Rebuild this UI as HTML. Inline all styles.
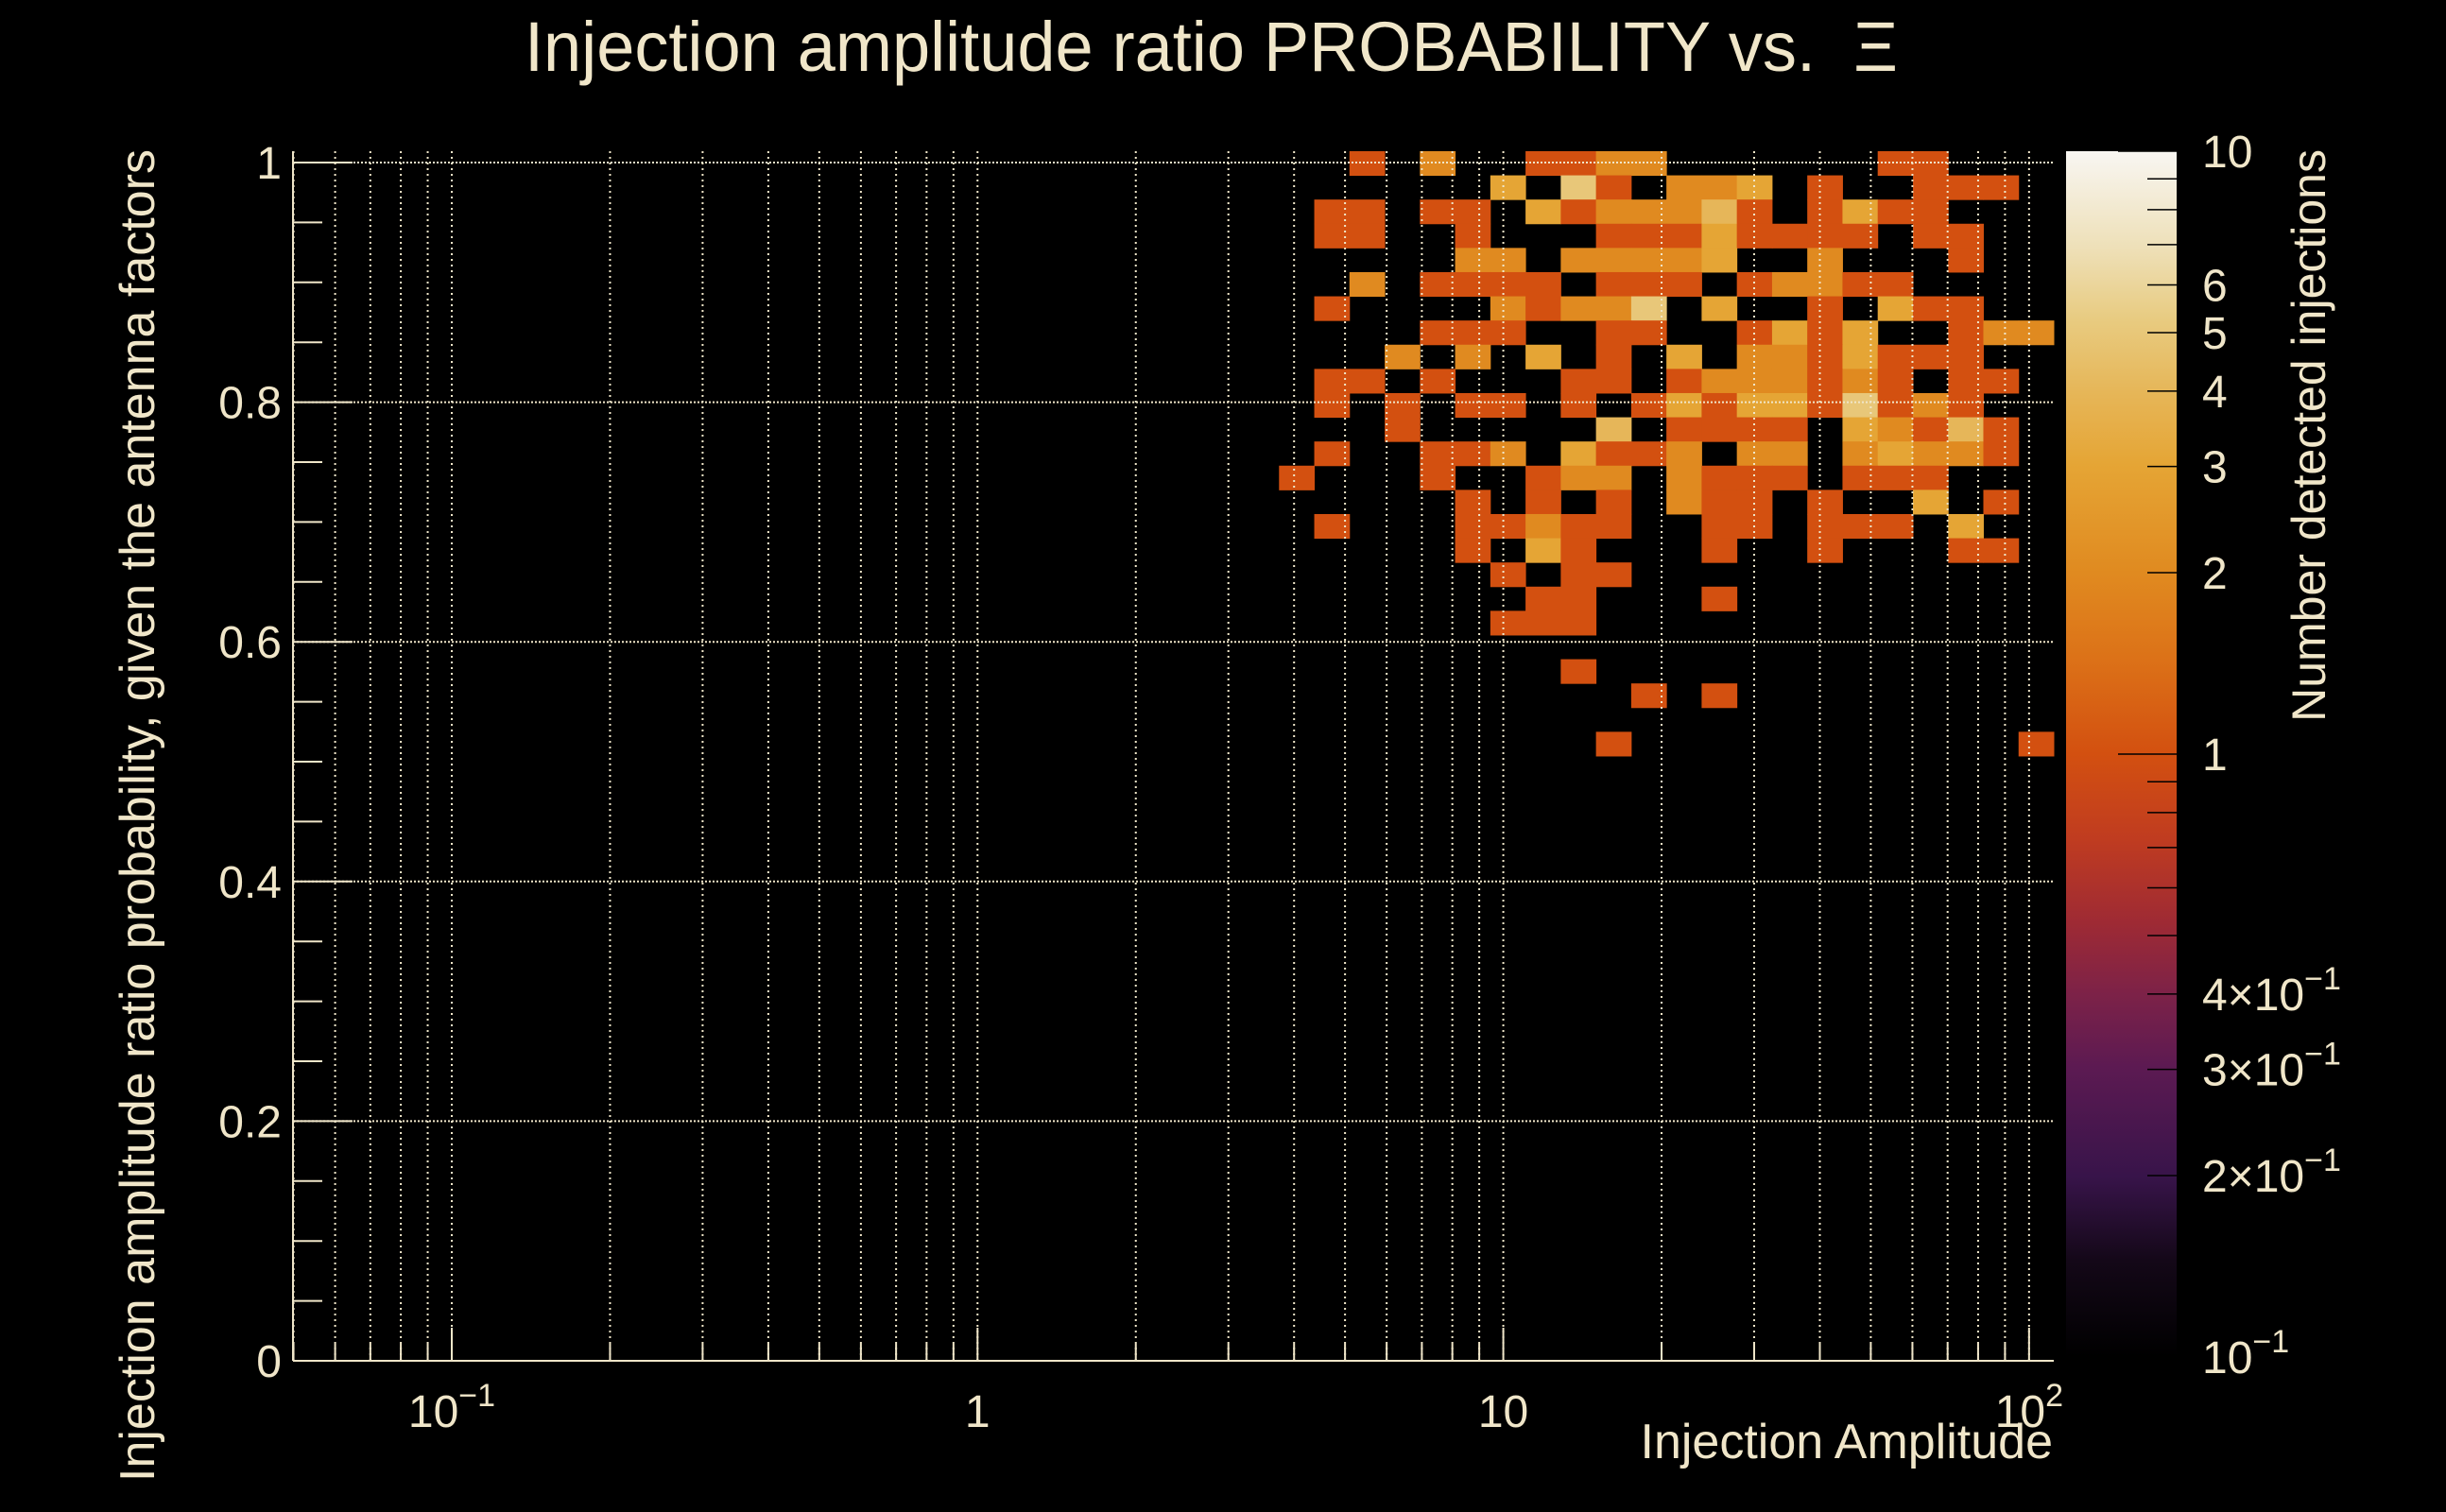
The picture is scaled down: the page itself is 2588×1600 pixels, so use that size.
<!DOCTYPE html>
<html><head><meta charset="utf-8"><style>
html,body{margin:0;padding:0;background:#000;}
svg{display:block;}
text{font-family:"Liberation Sans",sans-serif;fill:#f0e6c9;}
</style></head><body>
<svg id="chart" width="2588" height="1600" viewBox="0 0 2588 1600" xmlns="http://www.w3.org/2000/svg">
<defs>
<linearGradient id="cbgrad" x1="0" y1="1" x2="0" y2="0">
<stop offset="0" stop-color="#000000"/>
<stop offset="0.08" stop-color="#140818"/>
<stop offset="0.15" stop-color="#38144a"/>
<stop offset="0.24" stop-color="#5c1a52"/>
<stop offset="0.30" stop-color="#7c2248"/>
<stop offset="0.36" stop-color="#9e2a34"/>
<stop offset="0.43" stop-color="#c03c20"/>
<stop offset="0.50" stop-color="#d35010"/>
<stop offset="0.58" stop-color="#dc7218"/>
<stop offset="0.65" stop-color="#e08a20"/>
<stop offset="0.74" stop-color="#e5a535"/>
<stop offset="0.80" stop-color="#e6b658"/>
<stop offset="0.86" stop-color="#e8cb80"/>
<stop offset="0.92" stop-color="#eee0b8"/>
<stop offset="1" stop-color="#f8f6f2"/>
</linearGradient>
</defs>
<g id="cells"></g>
<g id="grid"></g>
<g id="axes"></g>
<rect x="2186" y="160" width="117" height="1276" fill="url(#cbgrad)"/>
<g id="cbticks"></g>
<text x="555" y="75" font-size="74" textLength="1453" lengthAdjust="spacingAndGlyphs" xml:space="preserve">Injection amplitude ratio PROBABILITY vs.  Ξ</text>
<text x="2172" y="1543" font-size="52" text-anchor="end">Injection Amplitude</text>
<text transform="translate(163,158) rotate(-90)" font-size="52" text-anchor="end" textLength="1410" lengthAdjust="spacingAndGlyphs">Injection amplitude ratio probability, given the antenna factors</text>
<text transform="translate(2460,158) rotate(-90)" font-size="50" text-anchor="end">Number detected injections</text>
</svg>
<script>
// ---- data ----
const xBinCount = 50;
const yBinCount = 50;
const xLogMin = -1.302;
const xLogMax = 2.047;
const yMin = 0;
const yMax = 1.0095;
const zLogMin = -1;
const zLogMax = 1;
// cells: x bin index, y bin index, count
const cellX = [30,32,35,36,37,38,45,46,
 34,36,37,39,40,41,43,46,47,48,
 29,30,32,33,35,36,37,38,39,40,41,43,44,45,46,
 29,30,33,37,38,39,40,41,42,43,44,46,47,
 33,34,36,37,38,39,40,43,47,
 30,32,33,34,35,37,38,39,41,42,43,44,45,
 29,34,35,36,37,38,40,43,45,46,47,
 32,33,34,37,38,41,42,43,44,47,48,49,
 31,33,35,37,39,41,42,43,44,45,46,47,
 29,30,32,36,37,39,40,41,42,43,44,45,47,48,
 29,31,33,34,36,38,39,40,41,42,43,44,45,46,47,
 31,37,39,40,41,42,44,45,46,47,48,
 29,32,33,34,36,37,38,39,41,42,44,45,46,47,48,
 28,32,35,36,37,39,40,41,42,44,45,46,
 33,35,37,39,40,41,43,46,48,
 29,33,34,35,36,37,40,41,43,44,45,47,
 33,35,36,40,43,47,48,
 34,36,37,
 35,36,40,
 34,35,36,
 36,
 38,40,
 37,49];
const cellY = [49,49,49,49,49,49,49,49,
 48,48,48,48,48,48,48,48,48,48,
 47,47,47,47,47,47,47,47,47,47,47,47,47,47,47,
 46,46,46,46,46,46,46,46,46,46,46,46,46,
 45,45,45,45,45,45,45,45,45,
 44,44,44,44,44,44,44,44,44,44,44,44,44,
 43,43,43,43,43,43,43,43,43,43,43,
 42,42,42,42,42,42,42,42,42,42,42,42,
 41,41,41,41,41,41,41,41,41,41,41,41,
 40,40,40,40,40,40,40,40,40,40,40,40,40,40,
 39,39,39,39,39,39,39,39,39,39,39,39,39,39,39,
 38,38,38,38,38,38,38,38,38,38,38,
 37,37,37,37,37,37,37,37,37,37,37,37,37,37,37,
 36,36,36,36,36,36,36,36,36,36,36,36,
 35,35,35,35,35,35,35,35,35,
 34,34,34,34,34,34,34,34,34,34,34,34,
 33,33,33,33,33,33,33,
 32,32,32,
 31,31,31,
 30,30,30,
 28,
 27,27,
 25,25];
const cellZ = [1,2,1,1,2,2,1,1,
 3,5,1,2,2,3,1,1,1,1,
 1,1,1,1,3,1,2,2,2,4,1,1,3,1,1,
 1,1,1,1,1,1,3,1,1,1,1,1,1,
 2,2,2,2,2,2,3,2,1,
 2,1,1,1,1,1,1,1,1,2,2,1,1,
 1,2,1,2,2,5,3,1,3,1,1,
 1,1,1,1,1,1,3,1,3,1,2,2,
 2,2,3,1,3,2,2,1,3,1,1,1,
 1,1,1,1,1,1,2,2,2,1,2,1,1,1,
 1,1,1,1,1,1,3,1,3,3,1,5,1,2,1,
 1,4,1,1,1,1,3,2,1,4,1,
 1,1,1,2,3,1,1,2,2,2,2,3,2,2,1,
 1,1,1,2,2,2,1,1,1,1,1,1,
 1,1,1,2,1,1,1,3,1,
 1,1,1,2,1,1,1,1,1,1,1,3,
 1,3,1,1,1,1,1,
 1,1,1,
 1,1,1,
 1,1,1,
 1,
 1,1,
 1,1];
const yTickValues = [0,0.2,0.4,0.6,0.8,1];
const yTickLabels = ["0","0.2","0.4","0.6","0.8","1"];
const xDecades = [-1,0,1,2];
const xDecadeBase = ["10","1","10","10"];
const xDecadeExp = ["−1","","","2"];
const cbMajor = [0.1,1,10];
const cbLabels = [[10,"10",""],[6,"6",""],[5,"5",""],[4,"4",""],[3,"3",""],[2,"2",""],[1,"1",""],[0.4,"4×10","−1"],[0.3,"3×10","−1"],[0.2,"2×10","−1"],[0.1,"10","−1"]];
const cbMinor = [0.2,0.3,0.4,0.5,0.6,0.7,0.8,0.9,2,3,4,5,6,7,8,9];

// ---- axes ----
const PL=310, PR=2173, PT=160, PB=1440;
const Y0=1440, Y1=172;
function xPix(logv){return PL+(logv-xLogMin)/(xLogMax-xLogMin)*(PR-PL);}
function yP(v){return Y0+(Y1-Y0)*v;}
function xBinEdge(i){return xPix(xLogMin+i*(xLogMax-xLogMin)/xBinCount);}
function yBinEdge(j){return yP(yMin+j*(yMax-yMin)/yBinCount);}
function zPix(z){return 1436-(Math.log10(z)-zLogMin)/(zLogMax-zLogMin)*1276;}
const stops=[[0,[0,0,0]],[0.08,[20,8,24]],[0.15,[56,20,74]],[0.24,[92,26,82]],[0.30,[124,34,72]],[0.36,[158,42,52]],[0.43,[192,60,32]],[0.50,[211,80,16]],[0.58,[220,114,24]],[0.65,[224,138,32]],[0.74,[229,165,53]],[0.80,[230,182,88]],[0.86,[232,203,128]],[0.92,[238,224,184]],[1,[248,246,242]]];
function zColor(z){
 let t=(Math.log10(z)-zLogMin)/(zLogMax-zLogMin); t=Math.max(0,Math.min(1,t));
 for(let i=1;i<stops.length;i++){ if(t<=stops[i][0]){const a=stops[i-1],b=stops[i];const f=(t-a[0])/(b[0]-a[0]);
  const c=a[1].map((v,k)=>Math.round(v+(b[1][k]-v)*f));return `rgb(${c[0]},${c[1]},${c[2]})`;}}
 return "rgb(248,246,242)";
}
const NS="http://www.w3.org/2000/svg";
function mk(tag,attrs,parent){const e=document.createElementNS(NS,tag);for(const k in attrs)e.setAttribute(k,attrs[k]);parent.appendChild(e);return e;}
const C="#f0e6c9";
const cells=document.getElementById('cells');
for(let i=0;i<cellX.length;i++){
 const x0=xBinEdge(cellX[i]),x1=xBinEdge(cellX[i]+1),y0=yBinEdge(cellY[i]+1),y1=yBinEdge(cellY[i]);
 const r=mk('rect',{x:x0,y:y0,width:x1-x0+0.5,height:y1-y0+0.5,fill:zColor(cellZ[i])},cells);
 
 
}
const grid=document.getElementById('grid');
for(const d of [-2,-1,0,1,2]){
 for(let m=1;m<=9;m++){
  const lv=d+Math.log10(m); if(lv<=xLogMin||lv>=xLogMax) continue;
  const x=xPix(lv);
  const l=mk('line',{x1:x,x2:x,y1:PT,y2:PB,stroke:C,'stroke-width':2,'stroke-dasharray':'2 4'},grid);
  
  
 }
}
for(const v of yTickValues){ if(v===0) continue;
 const y=yP(v);
 const l=mk('line',{x1:PL,x2:PR,y1:y,y2:y,stroke:C,'stroke-width':2,'stroke-dasharray':'2 2'},grid);
 
 
}
const axes=document.getElementById('axes');
mk('line',{x1:PL,x2:PL,y1:PT,y2:PB,stroke:C,'stroke-width':2},axes);
mk('line',{x1:PL,x2:PR,y1:PB,y2:PB,stroke:C,'stroke-width':2},axes);
for(let k=0;k<=20;k++){const v=k*0.05;const y=yP(v);const major=(k%4===0);
 const t=mk('line',{x1:PL,x2:PL+(major?63:31),y1:y,y2:y,stroke:C,'stroke-width':2},axes);
 
 
}
yTickValues.forEach((v,i)=>{
 const t=mk('text',{x:298,y:yP(v)+17,'font-size':48,'text-anchor':'end'},axes);
 t.textContent=yTickLabels[i];
 
 
});
for(const d of [-2,-1,0,1,2]){
 for(let m=1;m<=9;m++){
  const lv=d+Math.log10(m); if(lv<=xLogMin||lv>=xLogMax) continue;
  const x=xPix(lv);
  const t=mk('line',{x1:x,x2:x,y1:PB,y2:PB-(m===1?35:18),stroke:C,'stroke-width':2},axes);
  
  
 }
}
xDecades.forEach((d,i)=>{
 const x=xPix(d);
 const t=mk('text',{x:x,y:1510,'font-size':48,'text-anchor':'middle'},axes);
 t.textContent=xDecadeBase[i];
 if(xDecadeExp[i]){const s=mk('tspan',{'font-size':34,dy:-22},t);s.textContent=xDecadeExp[i];}
 
 
});
const cbt=document.getElementById('cbticks');
for(const z of cbMinor){const y=zPix(z);
 const l=mk('line',{x1:2272,x2:2303,y1:y,y2:y,stroke:'#000','stroke-width':1.5},cbt);
 
 
}
for(const z of cbMajor){const y=zPix(z);
 const l=mk('line',{x1:2241,x2:2303,y1:y,y2:y,stroke:'#000','stroke-width':1.5},cbt);
 
 
}
cbLabels.forEach(c=>{
 const t=mk('text',{x:2330,y:zPix(c[0])+17,'font-size':48},cbt);
 t.textContent=c[1];
 if(c[2]){const s=mk('tspan',{'font-size':34,dy:-22},t);s.textContent=c[2];}
 
 
});
</script>
</body></html>
